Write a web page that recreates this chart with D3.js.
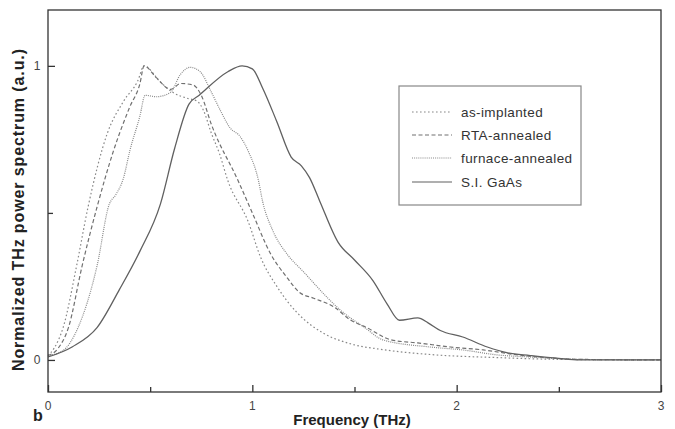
<!DOCTYPE html>
<html>
<head>
	<script src="https://cdn.jsdelivr.net/npm/d3@7"></script>
	<style>
		body { margin: 0; background: #fff; }
		text { font-family: "Liberation Sans", Arial, sans-serif; }
	</style>
</head>
<body>
	<script>
		// values: [frequency THz, normalized power]
		var asImplanted = [[0,0.015],[0.03,0.04],[0.074,0.11],[0.14,0.32],[0.196,0.52],[0.29,0.77],[0.37,0.88],
			[0.44,0.95],[0.47,1.0],[0.55,0.945],[0.61,0.91],[0.68,0.89],[0.73,0.88],[0.76,0.85],[0.8,0.77],
			[0.84,0.7],[0.88,0.61],[0.98,0.47],[1.04,0.35],[1.12,0.25],[1.22,0.16],[1.35,0.09],[1.48,0.055],
			[1.64,0.035],[1.88,0.018],[2.2,0.008],[2.5,0.002],[3,0]];
		var rtaAnnealed = [[0,0.015],[0.05,0.04],[0.1,0.11],[0.167,0.32],[0.24,0.52],[0.32,0.71],[0.4,0.86],
			[0.45,0.94],[0.47,1.0],[0.53,0.96],[0.6,0.92],[0.65,0.94],[0.71,0.935],[0.75,0.9],[0.8,0.8],
			[0.93,0.61],[1.0,0.5],[1.09,0.36],[1.17,0.28],[1.23,0.23],[1.3,0.21],[1.4,0.18],[1.48,0.136],
			[1.56,0.11],[1.68,0.068],[1.81,0.058],[1.97,0.044],[2.13,0.034],[2.3,0.017],[2.45,0.007],[2.6,0.002],[3,0]];
		var furnaceAnnealed = [[0,0.015],[0.07,0.03],[0.147,0.11],[0.24,0.32],[0.3,0.53],[0.33,0.56],
			[0.37,0.62],[0.4,0.71],[0.45,0.83],[0.475,0.9],[0.53,0.895],[0.6,0.91],[0.647,0.97],[0.696,0.995],
			[0.745,0.98],[0.8,0.91],[0.846,0.845],[0.89,0.79],[0.94,0.76],[0.98,0.71],[1.03,0.61],[1.05,0.54],
			[1.1,0.44],[1.17,0.36],[1.25,0.3],[1.37,0.21],[1.43,0.17],[1.55,0.11],[1.64,0.068],[1.87,0.044],
			[2.03,0.034],[2.2,0.017],[2.36,0.01],[2.6,0.002],[3,0]];
		var siGaAs = [[0,0.01],[0.12,0.045],[0.24,0.11],[0.35,0.24],[0.45,0.37],[0.55,0.53],[0.62,0.72],
			[0.69,0.87],[0.74,0.9],[0.88,0.98],[0.95,1.0],[1.0,0.99],[1.05,0.925],[1.12,0.81],[1.19,0.69],
			[1.24,0.66],[1.28,0.62],[1.33,0.54],[1.42,0.4],[1.5,0.34],[1.59,0.27],[1.66,0.19],[1.72,0.135],
			[1.81,0.143],[1.86,0.126],[1.92,0.1],[2.03,0.078],[2.15,0.044],[2.25,0.024],[2.36,0.015],
			[2.5,0.005],[2.6,0],[3,0]];

		var seriesNames = ['as-implanted', 'RTA-annealed', 'furnace-annealed', 'S.I. GaAs'];
		var seriesData = [asImplanted, rtaAnnealed, furnaceAnnealed, siGaAs];
		var dashes = ['1.6,2.4', '4,2.5', '1,1.1', null];
		var strokes = ['#888', '#707070', '#888', '#606060'];

		var xTicks = [0, 1, 2, 3];
		var xMinor = [0.5, 1.5, 2.5];
		var yTicks = [0, 1];
		var yMinor = [0.5];

		var width = 675, height = 429;
		var plotLeft = 48, plotRight = 661, plotTop = 10, plotBottom = 392;

		var svg = d3.select('body').append('svg')
			.attr('width', width)
			.attr('height', height);

		var x = d3.scaleLinear().domain([0, 3]).range([plotLeft, plotRight]);
		var y = d3.scaleLinear().domain([-0.109, 1.19]).range([plotBottom, plotTop]);

		var line = d3.line()
			.x(function (d) { return x(d[0]); })
			.y(function (d) { return y(d[1]); })
			.curve(d3.curveMonotoneX);

		var plot = svg.append('g');
		seriesData.forEach(function (s, i) {
			plot.append('path')
				.datum(s)
				.attr('d', line)
				.attr('fill', 'none')
				.attr('stroke', strokes[i])
				.attr('stroke-width', i === 3 ? 1.3 : 1.2)
				.attr('stroke-dasharray', dashes[i]);
		});

		// frame
		svg.append('rect')
			.attr('x', plotLeft).attr('y', plotTop)
			.attr('width', plotRight - plotLeft).attr('height', plotBottom - plotTop)
			.attr('fill', 'none')
			.attr('stroke', '#333')
			.attr('stroke-width', 1.3);

		// ticks point inward
		var xAxis = d3.axisTop(x).tickValues(xTicks).tickSize(7).tickFormat('');
		svg.append('g').attr('transform', 'translate(0,' + plotBottom + ')').call(xAxis);
		var xAxisMinor = d3.axisTop(x).tickValues(xMinor).tickSize(5).tickFormat('');
		svg.append('g').attr('transform', 'translate(0,' + plotBottom + ')').call(xAxisMinor);
		var yAxis = d3.axisRight(y).tickValues(yTicks).tickSize(7).tickFormat('');
		svg.append('g').attr('transform', 'translate(' + plotLeft + ',0)').call(yAxis);
		var yAxisMinor = d3.axisRight(y).tickValues(yMinor).tickSize(5).tickFormat('');
		svg.append('g').attr('transform', 'translate(' + plotLeft + ',0)').call(yAxisMinor);
		svg.selectAll('.domain').remove();
		svg.selectAll('.tick line').attr('stroke', '#333').attr('stroke-width', 1.3);

		// tick labels
		svg.selectAll('.xlab').data(xTicks).enter().append('text')
			.attr('x', function (d) { return x(d); })
			.attr('y', 410)
			.attr('text-anchor', 'middle')
			.attr('font-size', 12)
			.attr('fill', '#444')
			.text(function (d) { return d; });
		svg.selectAll('.ylab').data(yTicks).enter().append('text')
			.attr('x', 37)
			.attr('y', function (d) { return y(d) + 4; })
			.attr('text-anchor', 'middle')
			.attr('font-size', 12)
			.attr('fill', '#444')
			.text(function (d) { return d; });

		// axis titles
		svg.append('text')
			.attr('x', 352).attr('y', 425)
			.attr('text-anchor', 'middle')
			.attr('font-size', 15)
			.attr('font-weight', 'bold')
			.attr('fill', '#222')
			.text('Frequency (THz)');
		svg.append('text')
			.attr('transform', 'translate(24,210) rotate(-90)')
			.attr('text-anchor', 'middle')
			.attr('font-size', 16)
			.attr('font-weight', 'bold')
			.attr('fill', '#222')
			.attr('textLength', 322)
			.attr('lengthAdjust', 'spacing')
			.text('Normalized THz power spectrum (a.u.)');
		svg.append('text')
			.attr('x', 33).attr('y', 421)
			.attr('font-family', 'Liberation Serif, serif')
			.attr('font-size', 16)
			.attr('font-weight', 'bold')
			.attr('fill', '#222')
			.text('b');

		// legend
		var legend = svg.append('g');
		legend.append('rect')
			.attr('x', 399).attr('y', 86)
			.attr('width', 182).attr('height', 119)
			.attr('fill', '#fff')
			.attr('stroke', '#888')
			.attr('stroke-width', 1.2);
		var rows = [112, 135, 158, 182];
		seriesNames.forEach(function (name, i) {
			legend.append('line')
				.attr('x1', 412).attr('x2', 452)
				.attr('y1', rows[i]).attr('y2', rows[i])
				.attr('stroke', strokes[i])
				.attr('stroke-width', 1.2)
				.attr('stroke-dasharray', dashes[i]);
			legend.append('text')
				.attr('x', 461).attr('y', rows[i] + 5)
				.attr('font-size', 13.5)
				.attr('letter-spacing', 0.4)
				.attr('fill', '#333')
				.text(name);
		});
	</script>
</body>
</html>
